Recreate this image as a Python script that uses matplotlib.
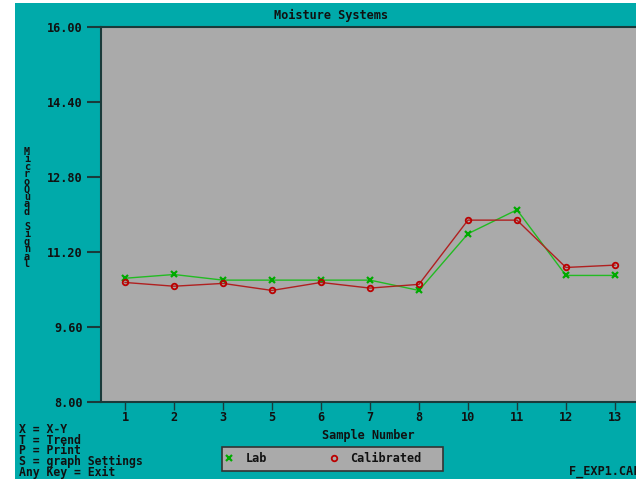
import matplotlib
matplotlib.use("Agg")
import matplotlib.pyplot as plt
from matplotlib.patches import Rectangle

# Data
samples = ["1", "2", "3", "5", "6", "7", "8", "10", "11", "12", "13"]
lab = [10.64, 10.72, 10.60, 10.60, 10.60, 10.60, 10.38, 11.59, 12.10, 10.70, 10.70]
calibrated = [10.55, 10.47, 10.53, 10.38, 10.55, 10.43, 10.51, 11.88, 11.88, 10.87, 10.92]
yticks = [8.00, 9.60, 11.20, 12.80, 14.40, 16.00]
menu = ["X = X-Y", "T = Trend", "P = Print", "S = graph Settings", "Any Key = Exit"]

teal = "#00aaaa"
gray = "#aaaaaa"
ink = "#111111"
W, H = 636, 479
mono = "DejaVu Sans Mono"
fs = 8.6

fig = plt.figure(figsize=(W / 100, H / 100), dpi=100, facecolor="white")
# teal screen background (white strip on left and top)
fig.patches.append(Rectangle((15 / W, 0), 1, (H - 3) / H, transform=fig.transFigure,
                             facecolor=teal, edgecolor="none", zorder=-10))
# legend box
fig.patches.append(Rectangle((222 / W, (H - 471) / H), 221 / W, 24 / H,
                             transform=fig.transFigure, facecolor=gray,
                             edgecolor="#333333", lw=1.2, zorder=-5))

ax = fig.add_axes([101 / W, (H - 402) / H, (W - 101) / W, (402 - 27) / H])
ax.set_facecolor(gray)
x = list(range(len(samples)))
ax.plot(x, lab, color="#22bb22", lw=1, marker="x", ms=4.5, mew=1.6,
        mec="#00aa00", label="Lab")
ax.plot(x, calibrated, color="#b02020", lw=1, marker="o", ms=4, mew=1.3,
        mfc="none", mec="#bb0000", label="Calibrated")

ax.set_xlim(-0.49, 10.43)
ax.set_ylim(8, 16)
ax.set_yticks(yticks)
ax.set_yticklabels([f"{v:.2f}" for v in yticks], fontsize=fs, fontweight="bold",
                   family=mono, color=ink)
ax.set_xticks(x)
ax.set_xticklabels(samples, fontsize=fs, fontweight="bold", family=mono, color=ink)
ax.tick_params(axis="y", length=10, width=1.5, color="#1a3a3a", pad=3)
ax.tick_params(axis="x", length=6, width=1, color="#1a3a3a", pad=0.8)
for s in ["top", "left", "bottom"]:
    ax.spines[s].set_color("#1a3a3a")
    ax.spines[s].set_linewidth(1.5)
ax.spines["right"].set_visible(False)
ax.set_xlabel("Sample Number", fontsize=fs, fontweight="bold", family=mono,
              color=ink, labelpad=3.5)

fig.text(331 / W, 1 - 15 / H, "Moisture Systems", ha="center", va="center",
         fontsize=fs, fontweight="bold", family=mono, color=ink)

# stacked vertical y label
fig.text(27 / W, 1 - 208 / H, "\n".join("MicroQuad Signal"), ha="center", va="center",
         ma="center", fontsize=7.3, fontweight="bold", family=mono, color=ink,
         linespacing=0.69)

fig.text(19 / W, 1 - 451 / H, "\n".join(menu), ha="left", va="center",
         fontsize=8.3, fontweight="bold", family=mono, color=ink, linespacing=0.76)

leg = ax.legend(loc="center left", bbox_to_anchor=(225 / W, (H - 459) / H),
                bbox_transform=fig.transFigure, ncol=2, frameon=False,
                prop={"family": mono, "weight": "bold", "size": fs},
                handlelength=0.6, handletextpad=1.1, borderaxespad=0, borderpad=0,
                columnspacing=5.3)
for h in leg.legend_handles:
    h.set_linestyle("none")
for t in leg.get_texts():
    t.set_color(ink)

fig.text(569 / W, 1 - 475 / H, "F_EXP1.CAL", ha="left", va="baseline",
         fontsize=fs, fontweight="bold", family=mono, color=ink)

fig.savefig("out.png", dpi=100, facecolor="white")
